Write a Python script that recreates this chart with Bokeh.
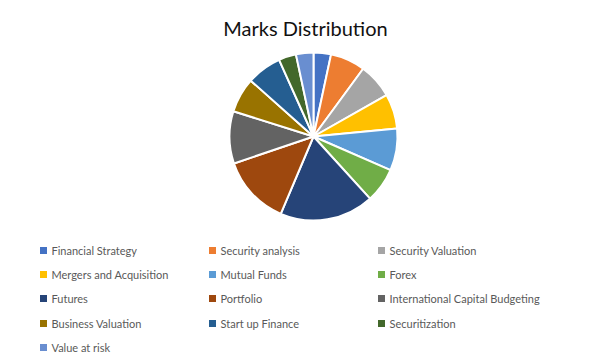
import numpy as np
from bokeh.plotting import figure
from bokeh.models import Range1d, ColumnDataSource
from bokeh.core.properties import value
from bokeh.embed import file_html
from bokeh.resources import INLINE

# ---- data ----
categories = ["Financial Strategy", "Security analysis", "Security Valuation",
              "Mergers and Acquisition", "Mutual Funds", "Forex",
              "Futures", "Portfolio", "International Capital Budgeting",
              "Business Valuation", "Start up Finance", "Securitization",
              "Value at risk"]
marks = [5, 10, 10, 10, 12, 10, 27, 20, 15, 10, 10, 5, 5]
colors = ["#4472C4", "#ED7D31", "#A5A5A5", "#FFC000", "#5B9BD5", "#70AD47",
          "#264478", "#9E480E", "#636363", "#997300", "#255E91", "#43682B",
          "#698ED0"]
title_text = "Marks Distribution"

W, H = 592, 356
p = figure(width=W, height=H, output_backend="svg", toolbar_location=None,
           x_range=Range1d(0, W), y_range=Range1d(0, H), min_border=0)
p.axis.visible = False
p.grid.visible = False
p.outline_line_color = None

# pie
vals = np.array(marks, dtype=float)
frac = vals / vals.sum()
cum = np.concatenate([[0], np.cumsum(frac)])
start = np.pi / 2 - cum[:-1] * 2 * np.pi
end = np.pi / 2 - cum[1:] * 2 * np.pi
cx, cy, r = 313, H - 136, 84
src = ColumnDataSource(dict(start=start, end=end, color=colors))
p.wedge(x=cx, y=cy, radius=r, radius_units="screen", start_angle="start",
        end_angle="end", direction="clock", fill_color="color",
        line_color="white", line_width=2, source=src)

# title
p.text(x=[305], y=[H - 27], text=[title_text], text_font=value("Lato"),
       text_font_size="20px", text_color="#111111", text_align="center",
       text_baseline="middle")

# legend
col_sq = [43, 212, 381]
row_y = [250, 274, 298, 323, 347]
n = len(categories)
sx = [col_sq[i % 3] for i in range(n)]
sy = [H - row_y[i // 3] for i in range(n)]
p.rect(x=sx, y=sy, width=7, height=7, width_units="screen",
       height_units="screen", fill_color=colors, line_color=None)
p.text(x=[x + 8 for x in sx], y=sy, text=categories, text_font=value("Lato"),
       text_font_size="11px", text_color="#595959", text_baseline="middle")

open("out.html", "w").write(file_html(p, INLINE))
